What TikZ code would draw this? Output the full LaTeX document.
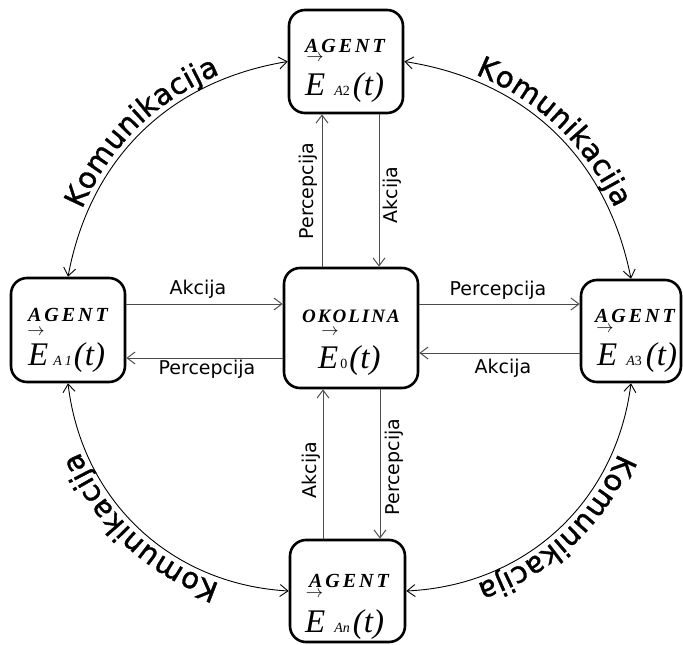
\documentclass[tikz,border=0pt]{standalone}
\usepackage{fontspec}
\setmainfont{Liberation Serif}
\newfontfamily\labfont{DejaVu Sans}
\newfontfamily\commfont[FakeBold=1.3]{DejaVu Sans}
\usetikzlibrary{arrows.meta,decorations.text,calc}
\newcommand\Ef{\fontsize{33}{33}\selectfont\itshape}
\newcommand\Sf{\fontsize{14}{14}\selectfont}
\newcommand\agentword{\fontsize{20}{20}\selectfont\bfseries\itshape A\kern3pt G\kern3pt E\kern3pt N\kern3pt T}
\newcommand\okolinaword{\fontsize{19}{19}\selectfont\bfseries\itshape O\kern2pt K\kern2pt O\kern2pt L\kern2pt I\kern2pt N\kern2pt A}
\newcommand\vecarr{\fontsize{16}{16}\selectfont$\rightarrow$}
\begin{document}
\begin{tikzpicture}[x=1pt,y=-1pt,
  box/.style={draw, line width=2.6pt, rounded corners=16pt, inner sep=0pt},
  flow/.style={draw=black!70, line width=1pt, -{Straight Barb[length=8pt,width=12pt]}},
  comm/.style={draw=black, line width=0.9pt,
     {Straight Barb[length=8pt,width=12pt]}-{Straight Barb[length=8pt,width=12pt]},
     postaction={decorate, decoration={text along path, text align=center, raise=6pt,
       text={|\commfont\fontsize{29}{29}\selectfont|Komunikacija}}}},
  lab/.style={font=\labfont\fontsize{19}{19}\selectfont, inner sep=0pt},
  txt/.style={inner sep=0pt},
  etxt/.style={inner sep=0pt, anchor=base west}]
\useasboundingbox (0,0) rectangle (683,645);

% boxes
\node[box, minimum width=114pt, minimum height=103pt] (A2) at (346,61.5) {};
\node[box, minimum width=114pt, minimum height=104pt] (A1) at (68,330) {};
\node[box, minimum width=100pt, minimum height=102pt] (A3) at (631,331) {};
\node[box, minimum width=115pt, minimum height=102pt] (An) at (347.5,591) {};
\node[box, minimum width=134pt, minimum height=120pt] (O) at (351,328) {};

% box texts
\node[txt] (A2a) at ($(A2)+(-1,-16)$) {\agentword};
\node[txt] (A2v) at ($(A2)+(-31,-3)$) {\vecarr};
\node[etxt] (A2e) at ($(A2)+(-41,33.5)$) {\Ef E\kern9pt{\Sf A\upshape 2}\kern3pt(t)};

\node[txt] (A1a) at ($(A1)+(0,-15)$) {\agentword};
\node[txt] (A1v) at ($(A1)+(-32,2)$) {\vecarr};
\node[etxt] (A1e) at ($(A1)+(-40,35)$) {\Ef E\kern5pt{\Sf A\kern3pt 1}\kern2pt(t)};

\node[txt] (A3a) at ($(A3)+(4,-15)$) {\agentword};
\node[txt] (A3v) at ($(A3)+(-26,-2)$) {\vecarr};
\node[etxt] (A3e) at ($(A3)+(-34,34)$) {\Ef E\kern9pt{\Sf A\upshape 3}\kern4pt(t)};

\node[txt] (Ana) at ($(An)+(1.5,-10)$) {\agentword};
\node[txt] (Anv) at ($(An)+(-33,3)$) {\vecarr};
\node[etxt] (Ane) at ($(An)+(-42.5,41)$) {\Ef E\kern9pt{\Sf An}\kern3pt(t)};

\node[txt] (Oa) at ($(O)+(0,-12)$) {\okolinaword};
\node[txt] (Ov) at ($(O)+(-21,4)$) {\vecarr};
\node[etxt] (Oe) at ($(O)+(-33,40)$) {\Ef E\kern2pt{\Sf\upshape 0}\kern2pt(t)};

% straight connectors
\draw[flow] (A1.east |- 0,304) -- (O.west |- 0,304);
\draw[flow] (O.west |- 0,358) -- (A1.east |- 0,358);
\draw[flow] (O.east |- 0,304) -- (A3.west |- 0,304);
\draw[flow] (A3.west |- 0,353) -- (O.east |- 0,353);
\draw[flow] (O.north -| 322,0) -- (A2.south -| 322,0);
\draw[flow] (A2.south -| 379,0) -- (O.north -| 379,0);
\draw[flow] (An.north -| 323,0) -- (O.south -| 323,0);
\draw[flow] (O.south -| 380,0) -- (An.north -| 380,0);

\node[lab] (l1) at (198,289) {Akcija};
\node[lab] (l2) at (207,369) {Percepcija};
\node[lab] (l3) at (498,290) {Percepcija};
\node[lab] (l4) at (503,368) {Akcija};
\node[lab, rotate=90] (l5) at (308,191) {Percepcija};
\node[lab, rotate=90] (l6) at (392,195) {Akcija};
\node[lab, rotate=90] (l7) at (311,470) {Akcija};
\node[lab, rotate=90] (l8) at (394,467) {Percepcija};

% communication arcs
\draw[comm] (A1.north) to[bend left=35] (A2.west);
\draw[comm] (A2.east) to[bend left=35] (A3.north);
\draw[comm] (A3.south) to[bend left=40] (An.east);
\draw[comm] (An.west) to[bend left=40] (A1.south);
\end{tikzpicture}
\end{document}
